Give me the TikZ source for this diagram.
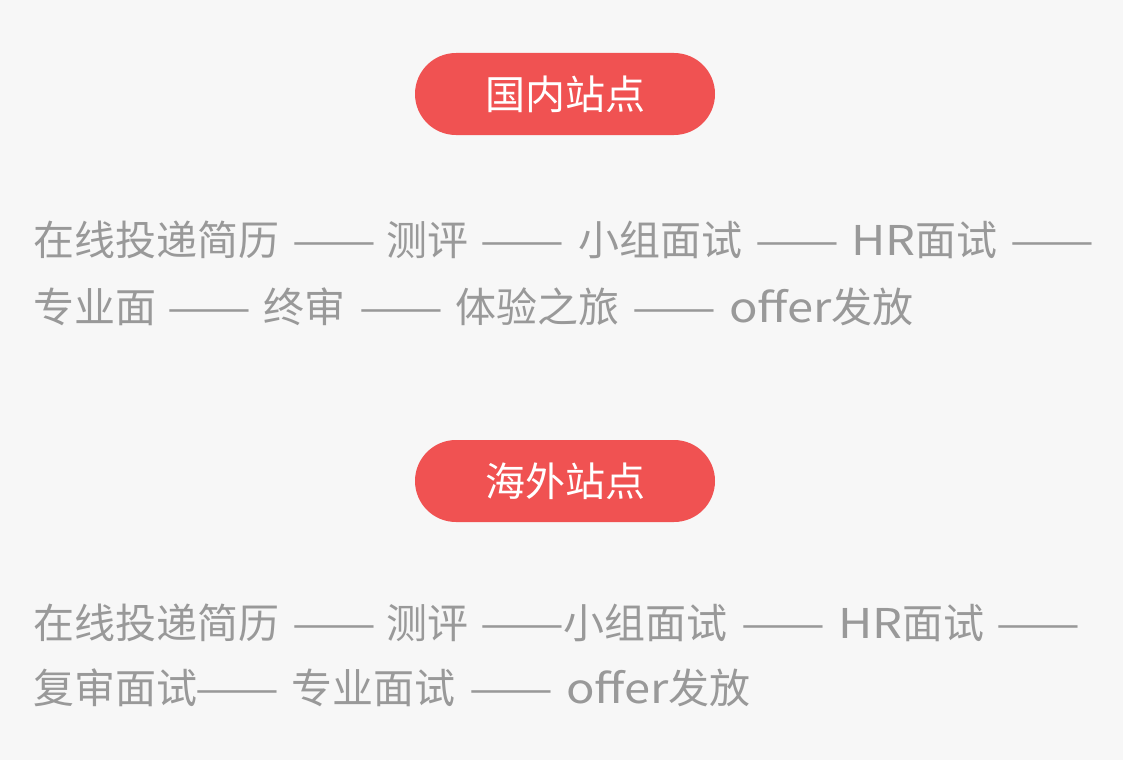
\documentclass[tikz,border=0pt]{standalone}
\usepackage{fontspec}
\setmainfont{Noto Sans CJK SC}
\definecolor{bgc}{HTML}{F7F7F7}
\definecolor{pillc}{HTML}{F05252}
\definecolor{txtc}{HTML}{999999}
\newcommand\ddash{\scalebox{1.22}[1]{——}}
\newcommand\wlat[1]{\scalebox{1.15}[1]{#1}}
\begin{document}
\begin{tikzpicture}[x=1pt,y=-1pt,
  pill/.style={fill=pillc, rounded corners=41pt, minimum width=300pt, minimum height=82pt, inner sep=0pt, text=white, font=\fontsize{40}{40}\selectfont},
  seg/.style={anchor=base west, inner sep=0pt, text=txtc, font=\fontsize{41}{41}\selectfont},
  dsh/.style={anchor=base, inner sep=0pt, text=txtc, font=\fontsize{41}{41}\selectfont}]
\fill[bgc] (0,0) rectangle (1123,760);
\useasboundingbox (0,0) rectangle (1123,760);
\node[pill] (p1) at (565,94) {国内站点};
% line 1
\node[seg] (a1) at (33,255) {在线投递简历};
\node[dsh] (a2) at (334.5,255) {\ddash};
\node[seg] (a3) at (386,255) {测评};
\node[dsh] (a4) at (522.5,255) {\ddash};
\node[seg] (a5) at (578,255) {小组面试};
\node[dsh] (a6) at (797.5,255) {\ddash};
\node[seg] (a7) at (851,255) {\wlat{HR}面试};
\node[dsh] (a8) at (1052.5,255) {\ddash};
% line 2
\node[seg] (b1) at (33,322) {专业面};
\node[dsh] (b2) at (209,322) {\ddash};
\node[seg] (b3) at (263,322) {终审};
\node[dsh] (b4) at (401,322) {\ddash};
\node[seg] (b5) at (455,322) {体验之旅};
\node[dsh] (b6) at (674.5,322) {\ddash};
\node[seg] (b7) at (729,322) {\wlat{offer}发放};
\node[pill] (p2) at (565,481) {海外站点};
% line 3
\node[seg] (c1) at (33,638) {在线投递简历};
\node[dsh] (c2) at (334.5,638) {\ddash};
\node[seg] (c3) at (386,638) {测评};
\node[dsh] (c4) at (522.5,638) {\ddash};
\node[seg] (c5) at (563,638) {小组面试};
\node[dsh] (c6) at (783.5,638) {\ddash};
\node[seg] (c7) at (838,638) {\wlat{HR}面试};
\node[dsh] (c8) at (1038,638) {\ddash};
% line 4
\node[seg] (d1) at (33,703) {复审面试};
\node[dsh] (d2) at (237,703) {\ddash};
\node[seg] (d3) at (291,703) {专业面试};
\node[dsh] (d4) at (511,703) {\ddash};
\node[seg] (d5) at (566,703) {\wlat{offer}发放};
\end{tikzpicture}
\end{document}
